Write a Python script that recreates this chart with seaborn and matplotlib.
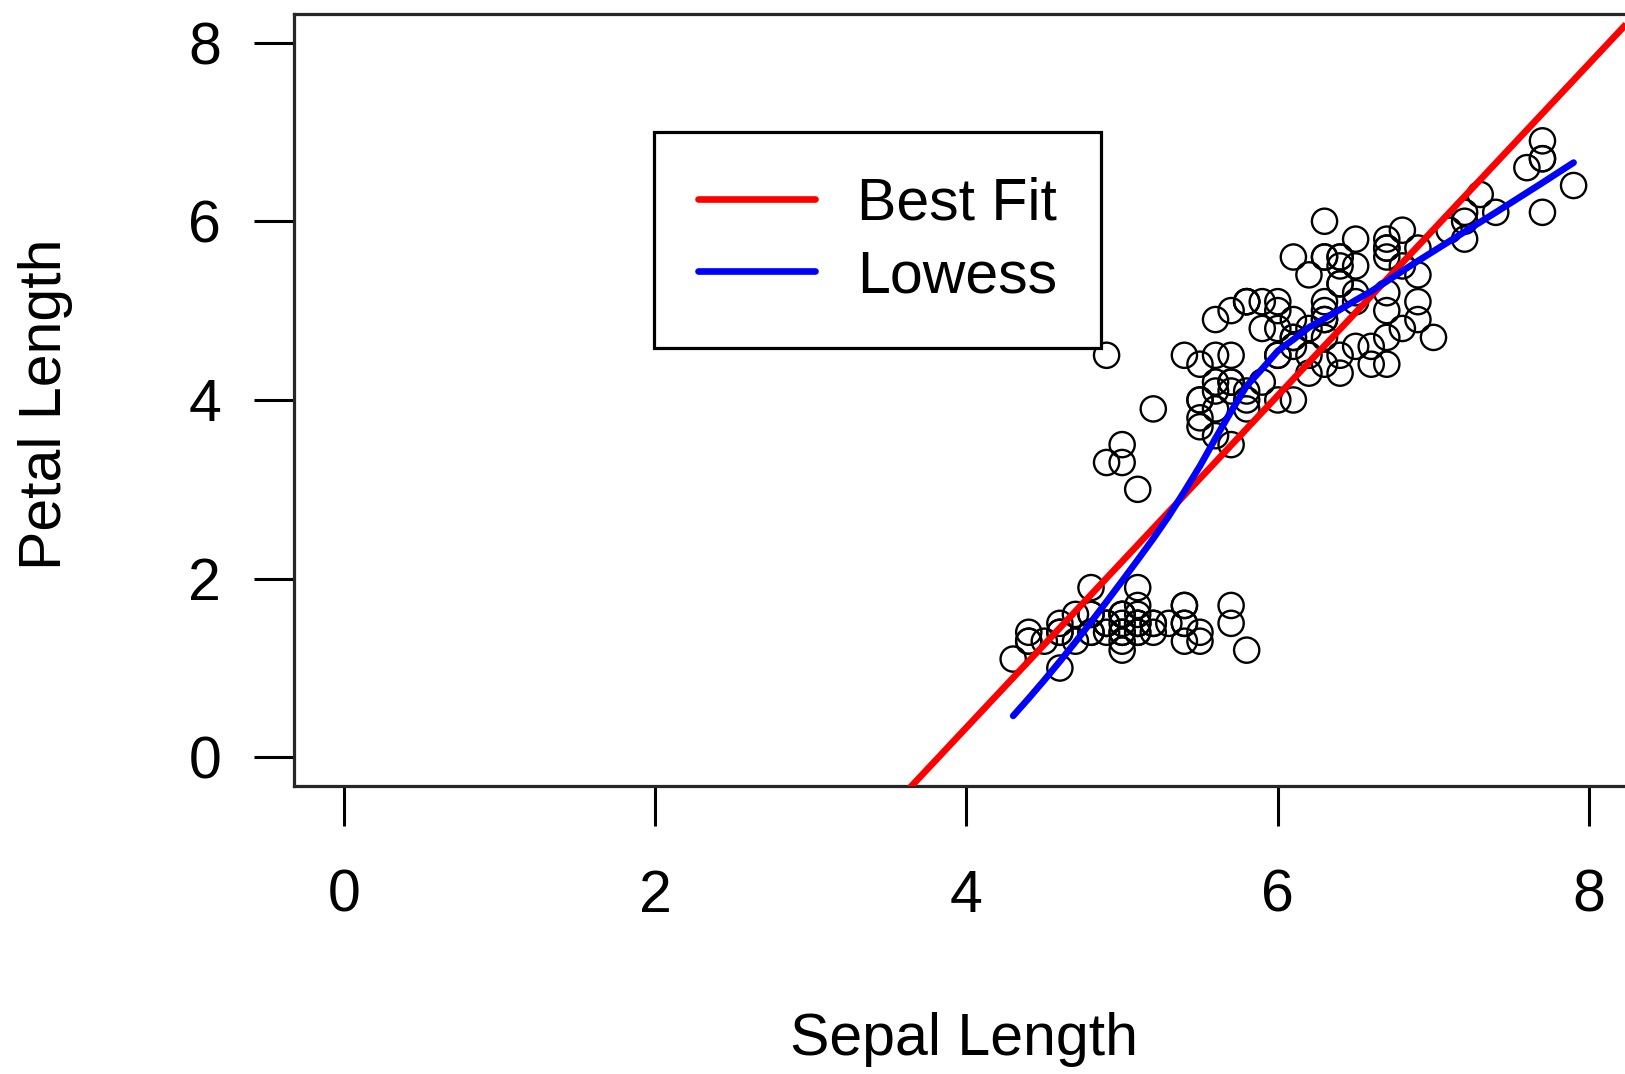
import numpy as np
import pandas as pd
import matplotlib
matplotlib.use("Agg")
import matplotlib.pyplot as plt
import seaborn as sns
from matplotlib.lines import Line2D

# Iris measurements (cm): setosa, versicolor, virginica in order
sepal_length = [
    5.1, 4.9, 4.7, 4.6, 5.0, 5.4, 4.6, 5.0, 4.4, 4.9, 5.4, 4.8, 4.8, 4.3, 5.8, 5.7, 5.4, 5.1, 5.7, 5.1,
    5.4, 5.1, 4.6, 5.1, 4.8, 5.0, 5.0, 5.2, 5.2, 4.7, 4.8, 5.4, 5.2, 5.5, 4.9, 5.0, 5.5, 4.9, 4.4, 5.1,
    5.0, 4.5, 4.4, 5.0, 5.1, 4.8, 5.1, 4.6, 5.3, 5.0,
    7.0, 6.4, 6.9, 5.5, 6.5, 5.7, 6.3, 4.9, 6.6, 5.2, 5.0, 5.9, 6.0, 6.1, 5.6, 6.7, 5.6, 5.8, 6.2, 5.6,
    5.9, 6.1, 6.3, 6.1, 6.4, 6.6, 6.8, 6.7, 6.0, 5.7, 5.5, 5.5, 5.8, 6.0, 5.4, 6.0, 6.7, 6.3, 5.6, 5.5,
    5.5, 6.1, 5.8, 5.0, 5.6, 5.7, 5.7, 6.2, 5.1, 5.7,
    6.3, 5.8, 7.1, 6.3, 6.5, 7.6, 4.9, 7.3, 6.7, 7.2, 6.5, 6.4, 6.8, 5.7, 5.8, 6.4, 6.5, 7.7, 7.7, 6.0,
    6.9, 5.6, 7.7, 6.3, 6.7, 7.2, 6.2, 6.1, 6.4, 7.2, 7.4, 7.9, 6.4, 6.3, 6.1, 7.7, 6.3, 6.4, 6.0, 6.9,
    6.7, 6.9, 5.8, 6.8, 6.7, 6.7, 6.3, 6.5, 6.2, 5.9,
]
petal_length = [
    1.4, 1.4, 1.3, 1.5, 1.4, 1.7, 1.4, 1.5, 1.4, 1.5, 1.5, 1.6, 1.4, 1.1, 1.2, 1.5, 1.3, 1.4, 1.7, 1.5,
    1.7, 1.5, 1.0, 1.7, 1.9, 1.6, 1.6, 1.5, 1.4, 1.6, 1.6, 1.5, 1.5, 1.4, 1.5, 1.2, 1.3, 1.5, 1.3, 1.5,
    1.3, 1.3, 1.3, 1.6, 1.9, 1.4, 1.6, 1.4, 1.5, 1.4,
    4.7, 4.5, 4.9, 4.0, 4.6, 4.5, 4.7, 3.3, 4.6, 3.9, 3.5, 4.2, 4.0, 4.7, 3.6, 4.4, 4.5, 4.1, 4.5, 3.9,
    4.8, 4.0, 4.9, 4.7, 4.3, 4.4, 4.8, 5.0, 4.5, 3.5, 3.8, 3.7, 3.9, 5.1, 4.5, 4.5, 4.7, 4.4, 4.1, 4.0,
    4.4, 4.6, 4.0, 3.3, 4.2, 4.2, 4.2, 4.3, 3.0, 4.1,
    6.0, 5.1, 5.9, 5.6, 5.8, 6.6, 4.5, 6.3, 5.8, 6.1, 5.1, 5.3, 5.5, 5.0, 5.1, 5.3, 5.5, 6.7, 6.9, 5.0,
    5.7, 4.9, 6.7, 4.9, 5.7, 6.0, 4.8, 4.9, 5.6, 5.8, 6.1, 6.4, 5.6, 5.1, 5.6, 6.1, 5.6, 5.5, 4.8, 5.4,
    5.6, 5.1, 5.1, 5.9, 5.7, 5.2, 5.0, 5.2, 5.4, 5.1,
]
axis_ticks = [0, 2, 4, 6, 8]
legend_labels = ["Best Fit", "Lowess"]


def lowess(x, y, f=2 / 3, iters=3):
    """Robust locally weighted regression (Cleveland 1979), as in R's lowess()."""
    order = np.argsort(x, kind="mergesort")
    x = np.asarray(x, float)[order]
    y = np.asarray(y, float)[order]
    n = len(x)
    ns = max(min(int(round(f * n)), n), 2)
    rng = x[-1] - x[0]
    rw = np.ones(n)
    ys = np.zeros(n)
    for it in range(iters + 1):
        nleft, nright = 0, ns - 1
        for i in range(n):
            while nright < n - 1 and x[i] - x[nleft] > x[nright + 1] - x[i]:
                nleft += 1
                nright += 1
            h = max(x[i] - x[nleft], x[nright] - x[i])
            h9, h1 = 0.999 * h, 0.001 * h
            d = np.abs(x - x[i])
            w = np.zeros(n)
            inside = d <= h9
            w[inside] = np.where(d[inside] <= h1, 1.0, (1 - (d[inside] / h) ** 3) ** 3)
            w *= rw
            if w.sum() <= 0:
                ys[i] = y[i]
                continue
            w /= w.sum()
            if h > 0:
                a = np.sum(w * x)
                b = x[i] - a
                c = np.sum(w * (x - a) ** 2)
                if np.sqrt(c) > 0.001 * rng:
                    w = w * (b / c * (x - a) + 1)
            ys[i] = np.sum(w * y)
        if it == iters:
            break
        res = np.abs(y - ys)
        cmad = 6 * np.median(res)
        if cmad < 1e-7 * np.mean(np.abs(y)):
            break
        r = res / cmad
        rw = np.where(r <= 0.001, 1.0, np.where(r <= 0.999, (1 - r ** 2) ** 2, 0.0))
    return x, ys


df = pd.DataFrame({"Sepal Length": sepal_length, "Petal Length": petal_length})
lx, ly = lowess(df["Sepal Length"].values, df["Petal Length"].values)
smooth = pd.DataFrame({"x": lx, "y": ly})

sns.set_theme(style="white")
plt.rcParams["font.family"] = ["Liberation Sans", "DejaVu Sans"]
plt.rcParams["text.color"] = "black"

FS = 42.5
fig = plt.figure(figsize=(16.25, 10.74), dpi=100)
ax = fig.add_axes([0.1809, 0.2682, 0.8277, 0.7188])
ax.set_xlim(-0.32, 8.32)
ax.set_ylim(-0.32, 8.32)

sns.scatterplot(data=df, x="Sepal Length", y="Petal Length", ax=ax,
                marker="o", s=330, facecolor="none", edgecolor="black",
                linewidth=1.7, zorder=2)
sns.regplot(data=df, x="Sepal Length", y="Petal Length", ax=ax, scatter=False,
            ci=None, truncate=False, color="#FF0000",
            line_kws={"linewidth": 4.8, "solid_capstyle": "butt", "zorder": 3})
sns.lineplot(data=smooth, x="x", y="y", ax=ax, estimator=None, sort=False,
             color="#0000FF", linewidth=4.8, zorder=4)
ax.set_xlim(-0.32, 8.32)
ax.set_ylim(-0.32, 8.32)

for s in ax.spines.values():
    s.set_visible(True)
    s.set_color("#262626")
    s.set_linewidth(2.3)

ax.set_xticks(axis_ticks)
ax.set_yticks(axis_ticks)
ax.set_xticklabels([str(t) for t in axis_ticks])
ax.set_yticklabels([str(t) for t in axis_ticks])
ax.tick_params(axis="both", which="major", direction="out", length=28.5,
               width=2.2, color="black", labelsize=FS, labelcolor="black",
               bottom=True, left=True, top=False, right=False)
ax.tick_params(axis="x", pad=31)
ax.tick_params(axis="y", pad=24)

ax.set_xlabel("Sepal Length", fontsize=FS, color="black")
ax.set_ylabel("Petal Length", fontsize=FS, color="black")
ax.xaxis.set_label_coords(0.498, -0.329)
ax.xaxis.label.set_va("center")
ax.yaxis.set_label_coords(-0.185, 0.495)
ax.yaxis.label.set_va("center")

handles = [Line2D([], [], color="#FF0000", linewidth=4.8),
           Line2D([], [], color="#0000FF", linewidth=4.8)]
leg = ax.legend(handles, legend_labels, loc="upper left",
                bbox_to_anchor=(0.2677, 0.847), borderaxespad=0,
                fontsize=FS, frameon=True, fancybox=False, shadow=False,
                edgecolor="black", framealpha=1, handlelength=1.98,
                handletextpad=0.71, labelspacing=0.30, borderpad=0.75,
                labelcolor="black")
leg.get_frame().set_linewidth(2.3)

fig.savefig("out.png", dpi=100, facecolor="white")
